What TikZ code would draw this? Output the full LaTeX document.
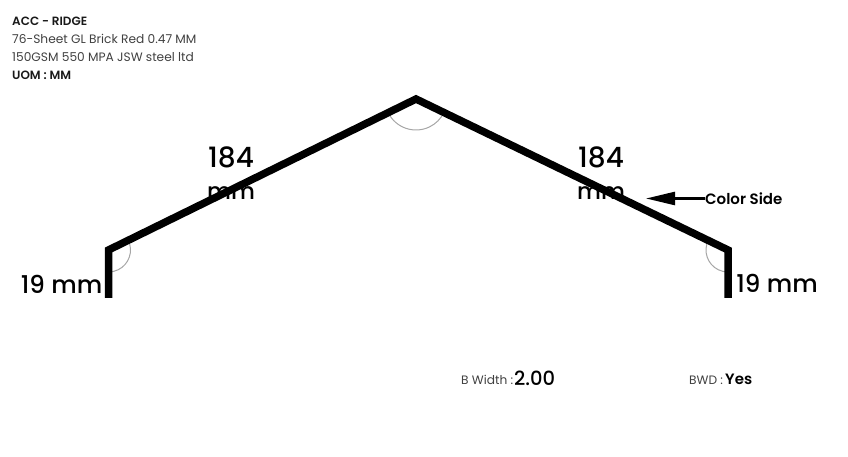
\documentclass[tikz,border=0pt]{standalone}
\usepackage{fontspec}
\setmainfont{Poppins}
\newfontfamily\medfont{Poppins Medium}
\newfontfamily\semifont{Poppins SemiBold}
\usetikzlibrary{arrows.meta}

\tikzset{
	sheet/.style={line width=7.5pt, line join=miter, line cap=butt},
	anglearc/.style={gray!70, line width=1pt},
	dimlabel/.style={font=\medfont\fontsize{24.5}{32}\selectfont, text=black, inner sep=0pt},
	infolabel/.style={font=\fontsize{12.2}{16}\selectfont, text=black!75, anchor=west, inner sep=0pt},
	infobold/.style={font=\semifont\fontsize{12}{16}\selectfont, text=black!90, anchor=west, inner sep=0pt},
	callout/.style={font=\semifont\fontsize{15}{18}\selectfont, inner sep=0pt}
}

\begin{document}
\begin{tikzpicture}[x=1pt,y=1pt]
	\useasboundingbox (0,0) rectangle (848,457);

	% Sheet info
	\node[infobold] (title) at (12,436) {ACC - RIDGE};
	\node[infolabel] (sheetinfo) at (12,418.5) {76-Sheet GL Brick Red 0.47 MM};
	\node[infolabel] (gsminfo) at (12,400) {150GSM 550 MPA JSW steel ltd};
	\node[infobold] (uom) at (12,382) {UOM : MM};

	% Profile points
	\coordinate (leftend) at (108.5,159);
	\coordinate (leftbend) at (108.5,207);
	\coordinate (apex) at (416,358);
	\coordinate (rightbend) at (728,207);
	\coordinate (rightend) at (728,159);

	% Dimension labels
	\node[dimlabel, align=center] (leftslope) at (231,284) {\fontsize{28}{32}\selectfont 184\\\fontsize{23}{32}\selectfont mm};
	\node[dimlabel, align=center] (rightslope) at (601,284) {\fontsize{28}{32}\selectfont 184\\\fontsize{23}{32}\selectfont mm};
	\node[dimlabel] (leftflange) at (61.5,173) {19 mm};
	\node[dimlabel] (rightflange) at (777,174) {19 mm};

	% Angle arcs
	\draw[anglearc] (apex) ++(206:31) arc (206:334:31);
	\draw[anglearc] (leftbend) ++(26:22) arc (26:-90:22);
	\draw[anglearc] (rightbend) ++(154:22) arc (154:270:22);

	% Profile
	\draw[sheet] (leftend) -- (leftbend) -- (apex) -- (rightbend) -- (rightend);

	% Color side
	\node[callout, anchor=west] (colorside) at (705,258.5) {Color Side};
	\coordinate (colortip) at (646,258.5);
	\draw[-{Stealth[length=29pt,width=13pt,inset=0pt]}, line width=2.5pt] (colorside) -- (colortip);

	% Bottom values
	\node[infolabel, anchor=base west] (bwidth) at (461,72.5) {B Width :};
	\node[font=\medfont\fontsize{19.5}{22}\selectfont, inner sep=0pt, anchor=base west] (bvalue) at (514,71.5) {2.00};
	\node[infolabel, anchor=base west] (bwd) at (689,72.5) {BWD :};
	\node[callout, anchor=base west] (bwdvalue) at (725,72.5) {Yes};
\end{tikzpicture}
\end{document}
